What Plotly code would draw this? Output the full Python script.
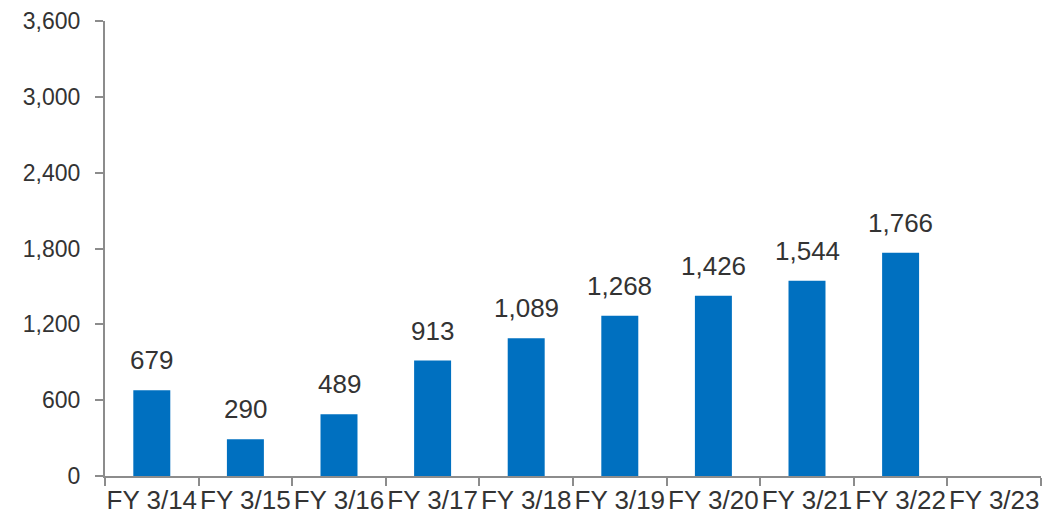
import plotly.graph_objects as go

categories = ["FY 3/14", "FY 3/15", "FY 3/16", "FY 3/17", "FY 3/18",
              "FY 3/19", "FY 3/20", "FY 3/21", "FY 3/22", "FY 3/23"]
values = [679, 290, 489, 913, 1089, 1268, 1426, 1544, 1766, None]
labels = ["679", "290", "489", "913", "1,089", "1,268", "1,426", "1,544", "1,766", ""]
y_ticks = [0, 600, 1200, 1800, 2400, 3000, 3600]

FONT = "Liberation Sans, Arial, sans-serif"
TEXT = "#333333"
AXIS = "#8c8c8c"

fig = go.Figure(go.Bar(
    x=categories, y=values,
    marker=dict(color="#0070C0", line=dict(width=0)),
    hoverinfo="x+y",
))

for c, v, t in zip(categories, values, labels):
    if v is None:
        continue
    fig.add_annotation(
        x=c, y=v, text=t, showarrow=False, xanchor="center", yanchor="bottom",
        yshift=13, font=dict(family=FONT, size=26, color=TEXT),
    )

fig.update_layout(
    width=1058, height=520,
    margin=dict(l=105, r=17, t=21, b=44),
    plot_bgcolor="white", paper_bgcolor="white",
    bargap=0.605,
    showlegend=False,
    font=dict(family=FONT, color=TEXT, size=22),
)
fig.update_xaxes(
    showline=True, linecolor=AXIS, linewidth=2,
    ticks="outside", tickson="boundaries", ticklen=8, tickcolor=AXIS, tickwidth=2,
    tickfont=dict(size=26), tickangle=0, showgrid=False, automargin=False,
)
fig.update_yaxes(
    range=[0, 3600], tickvals=y_ticks, tickformat=",",
    showline=True, linecolor=AXIS, linewidth=2,
    ticks="outside", ticklen=8, tickcolor=AXIS, tickwidth=2, ticklabelstandoff=10,
    tickfont=dict(size=23), showgrid=False, zeroline=False, automargin=False,
)

fig.write_html(
    "out.html",
    config={"displayModeBar": False},
    post_script="document.body.style.margin='0';document.body.style.padding='0';",
)
